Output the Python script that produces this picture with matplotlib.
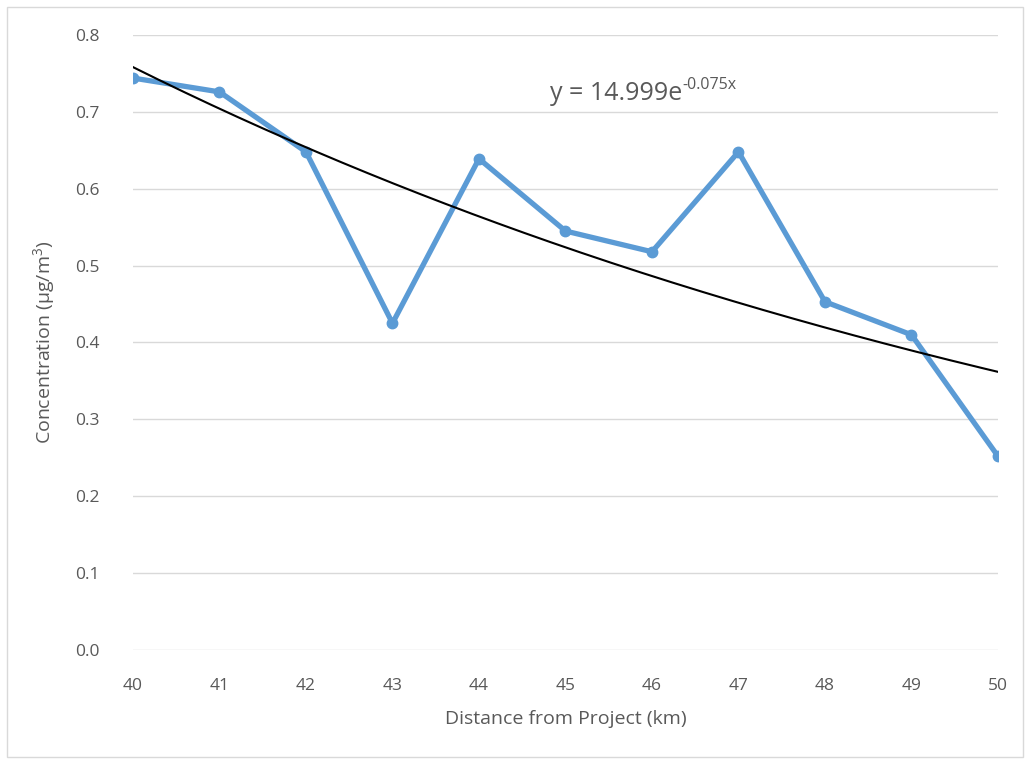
import numpy as np
import matplotlib.pyplot as plt
from matplotlib.patches import Rectangle

# Data
distance = [40, 41, 42, 43, 44, 45, 46, 47, 48, 49, 50]
concentration = [0.744, 0.726, 0.648, 0.425, 0.639, 0.545, 0.518, 0.648, 0.453, 0.410, 0.252]
x_ticks = [40, 41, 42, 43, 44, 45, 46, 47, 48, 49, 50]
y_ticks = [0.0, 0.1, 0.2, 0.3, 0.4, 0.5, 0.6, 0.7, 0.8]

# Exponential trendline fitted to the data
x = np.array(distance, dtype=float)
y = np.array(concentration)
b, log_a = np.polyfit(x, np.log(y), 1)
xs = np.linspace(x.min(), x.max(), 200)
ys = np.exp(log_a) * np.exp(b * xs)

grey = '#595959'
plt.rcParams['font.family'] = ['Open Sans', 'DejaVu Sans']

fig = plt.figure(figsize=(10.26, 7.61), dpi=100)
ax = fig.add_axes([0.1296, 0.1459, 0.8431, 0.8081])

# chart border
fig.patches.append(Rectangle((0.007, 0.005), 0.99, 0.986, transform=fig.transFigure,
                             fill=False, edgecolor='#d9d9d9', linewidth=1))

ax.plot(distance, concentration, color='#5B9BD5', linewidth=3.8, marker='o',
        markersize=7.5, zorder=3)
ax.plot(xs, ys, color='black', linewidth=1.5, zorder=4)

ax.set_xlim(40, 50)
ax.set_ylim(0, 0.8)
ax.set_xticks(x_ticks)
ax.set_yticks(y_ticks)
ax.set_yticklabels([f'{v:.1f}' for v in y_ticks])
ax.grid(axis='y', color='#d9d9d9', linewidth=1)
ax.set_axisbelow(True)
for s in ax.spines.values():
    s.set_visible(False)
ax.tick_params(length=0, colors=grey, labelsize=12.5)
ax.tick_params(axis='x', pad=20)
ax.tick_params(axis='y', pad=24)

ax.set_xlabel('Distance from Project (km)', color=grey, fontsize=14, labelpad=12)
ax.set_ylabel('Concentration (µg/m$^\\mathregular{3}$)', color=grey, fontsize=14, labelpad=12)

# trendline equation, exponent drawn as a separate smaller text
eq = ax.text(0.482, 0.905, 'y = 14.999e', transform=ax.transAxes,
             fontsize=18, color=grey, ha='left', va='center')
fig.canvas.draw()
bb = eq.get_window_extent()
ax.annotate('-0.075x', xy=(bb.x1, bb.y1), xycoords='figure pixels',
            xytext=(0.5, 3), textcoords='offset points',
            fontsize=11.5, color=grey, ha='left', va='top')

fig.savefig('out.png', dpi=100)
